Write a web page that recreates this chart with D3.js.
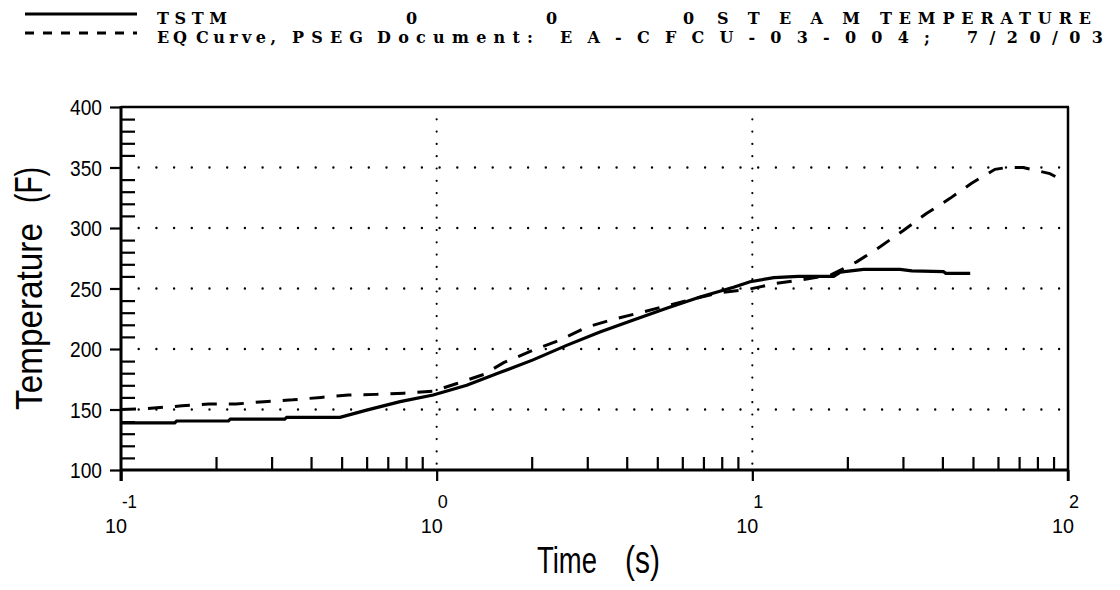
<!DOCTYPE html>
<html><head><meta charset="utf-8">
<script src="https://cdn.jsdelivr.net/npm/d3@7/dist/d3.min.js"></script>
<style>body{margin:0;background:#fff}svg{display:block;background:#fff}</style>
</head><body>
<svg id="chart" width="1120" height="590"></svg>
<script>
// ---------- data ----------
const tstmTime = [0.1,0.148,0.15,0.219,0.222,0.33,0.335,0.494,0.6,0.766,0.975,1.245,1.585,2.02,2.58,3.29,4.2,5.35,6.83,8.72,9.84,11.7,14,18.1,19,22.5,29.4,32,40.3,41,49];
const tstmTemp = [139,139,140.5,140.5,142,142,143.5,143.5,149.5,156.5,162,170,180.5,191,203,214,224,233.6,243,251,255.6,259,260,260,263.5,265.8,265.8,264.5,264,262.5,262.5];
const eqTime = [0.1,0.115,0.156,0.19,0.231,0.284,0.35,0.43,0.525,0.643,0.788,0.97,1.16,1.41,1.63,2.02,2.46,2.98,3.63,4.41,5.48,6.66,7.89,9.7,11.9,14.7,17.8,21.4,25.4,30.1,35.6,42.3,49.5,58.7,64,72.1,87.6,92.1];
const eqTemp = [150,150.4,153,154.5,154.5,156.5,158,160,162,162.5,163.5,165,171.5,179,188.7,199,207.4,218,224.5,230,236.4,242,246.5,249.3,254.3,257.6,261.4,272,284.5,298,312,324.5,337,348.5,350,350,345,342];
const xMajorTicks = [0.1,1,10,100];
const xTickExponents = ["-1","0","1","2"];
const yTicks = [100,150,200,250,300,350,400];
const yGridValues = [150,200,250,300,350];
const xGridValues = [1,10];
const legendRow1 = ["TSTM","0","0","0","STEAM","TEMPERATURE"];
const legendRow2 = ["EQ","Curve,","PSEG","Document:","EA-CFCU-03-004;","7/20/03"];
const xTitle = ["Time","(s)"];
const yTitle = ["Temperature","(F)"];

// ---------- layout ----------
const L = 121, R = 1068, T = 107, B = 470;
const narrow = "'Liberation Sans Narrow','Arial Narrow','Liberation Sans',Arial,sans-serif";
const svg = d3.select("#chart");
const x = d3.scaleLog().domain([0.1,100]).range([L,R]);
const y = d3.scaleLinear().domain([100,400]).range([B,T]);

// minor ticks
const xMinor = [];
[0.1,1,10].forEach(d => { for (let k=2;k<=9;k++) xMinor.push(+(d*k).toPrecision(3)); });
const yMinor = d3.range(110,400,10).filter(v => v%50 !== 0);

// grid
svg.append("g").selectAll("line").data(yGridValues).join("line")
  .attr("x1",L).attr("x2",R).attr("y1",d=>y(d)).attr("y2",d=>y(d))
  .attr("stroke","#000").attr("stroke-width",2.4).attr("stroke-linecap","round")
  .attr("stroke-dasharray","0 17.7");
svg.append("g").selectAll("line").data(xGridValues).join("line")
  .attr("x1",d=>x(d)).attr("x2",d=>x(d)).attr("y1",T).attr("y2",B)
  .attr("stroke","#000").attr("stroke-width",2.2).attr("stroke-linecap","round")
  .attr("stroke-dasharray","0 12.3");

// axes
const gxMinor = svg.append("g").attr("transform",`translate(0,${B})`)
  .call(d3.axisTop(x).tickValues(xMinor).tickSize(13).tickFormat(""));
const gxMajor = svg.append("g").attr("transform",`translate(0,${B})`)
  .call(d3.axisBottom(x).tickValues(xMajorTicks).tickSize(11).tickFormat(""));
const gyMinor = svg.append("g").attr("transform",`translate(${L},0)`)
  .call(d3.axisRight(y).tickValues(yMinor).tickSize(14).tickFormat(""));
const gyMajor = svg.append("g").attr("transform",`translate(${L},0)`)
  .call(d3.axisLeft(y).tickValues(yTicks).tickSize(11).tickPadding(8).tickFormat(d3.format("d")));
[gxMinor,gxMajor,gyMinor,gyMajor].forEach(g=>{
  g.select(".domain").remove();
  g.selectAll(".tick line").attr("stroke","#000").attr("stroke-width",2.2);
});
gyMajor.selectAll(".tick text").attr("fill","#000").attr("font-family",narrow)
  .attr("font-size",22).attr("textLength",32).attr("lengthAdjust","spacingAndGlyphs")
  .attr("dy","0.36em");

// frame
svg.append("line").attr("x1",L).attr("x2",L).attr("y1",T-1).attr("y2",B+11).attr("stroke","#000").attr("stroke-width",3);
svg.append("line").attr("x1",L-1).attr("x2",R+1).attr("y1",B).attr("y2",B).attr("stroke","#000").attr("stroke-width",3);
svg.append("line").attr("x1",L).attr("x2",R+1).attr("y1",T).attr("y2",T).attr("stroke","#000").attr("stroke-width",2.5);
svg.append("line").attr("x1",R).attr("x2",R).attr("y1",T).attr("y2",B+11).attr("stroke","#000").attr("stroke-width",2.5);

// x tick labels 10^n
const xl = svg.append("g").attr("font-family",narrow).attr("fill","#000");
xl.selectAll("text.base").data(xMajorTicks).join("text").attr("class","base")
  .attr("x",d=>x(d)+6).attr("y",533).attr("text-anchor","end")
  .attr("font-size",21).attr("textLength",22).attr("lengthAdjust","spacingAndGlyphs").text("10");
xl.selectAll("text.exp").data(xMajorTicks).join("text").attr("class","exp")
  .attr("x",d=>x(d)+1).attr("y",508).attr("text-anchor","start")
  .attr("font-size",18).text((d,i)=>xTickExponents[i])
  .each(function(d,i){ if (xTickExponents[i].length>1) d3.select(this).attr("textLength",15).attr("lengthAdjust","spacingAndGlyphs"); });

// axis titles
svg.append("text").attr("x",537).attr("y",573).attr("font-family",narrow).attr("font-size",36)
  .attr("textLength",60).attr("lengthAdjust","spacingAndGlyphs").text(xTitle[0]);
svg.append("text").attr("x",625).attr("y",573).attr("font-family",narrow).attr("font-size",38)
  .attr("textLength",35).attr("lengthAdjust","spacingAndGlyphs").text(xTitle[1]);
svg.append("text").attr("transform","translate(42,410) rotate(-90)").attr("font-family",narrow)
  .attr("font-size",37).attr("textLength",187).attr("lengthAdjust","spacingAndGlyphs").text(yTitle[0]);
svg.append("text").attr("transform","translate(42,203) rotate(-90)").attr("font-family",narrow)
  .attr("font-size",38).attr("textLength",36).attr("lengthAdjust","spacingAndGlyphs").text(yTitle[1]);

// curves
const line = d3.line().x(d=>x(d[0])).y(d=>y(d[1]));
svg.append("path").datum(eqTime.map((t,i)=>[t,eqTemp[i]])).attr("d",line)
  .attr("fill","none").attr("stroke","#000").attr("stroke-width",3).attr("stroke-dasharray","15 12");
svg.append("path").datum(tstmTime.map((t,i)=>[t,tstmTemp[i]])).attr("d",line)
  .attr("fill","none").attr("stroke","#000").attr("stroke-width",3.2);

// legend
svg.append("line").attr("x1",25).attr("x2",137).attr("y1",14).attr("y2",14).attr("stroke","#000").attr("stroke-width",3);
svg.append("line").attr("x1",25).attr("x2",137).attr("y1",33).attr("y2",33).attr("stroke","#000").attr("stroke-width",3).attr("stroke-dasharray","9 9");
const row1Pos = [[157,70],[406,10],[546,10],[683,10],[717,143],[880,211]];
const row2Pos = [[157,30],[196,80],[292,71],[377,156],[560,370],[967,136]];
const lg = svg.append("g").attr("font-family","'DejaVu Serif','Liberation Serif',serif").attr("font-weight","bold").attr("font-size",16).attr("fill","#000");
lg.selectAll("text.r1").data(legendRow1).join("text").attr("class","r1")
  .attr("x",(d,i)=>row1Pos[i][0]).attr("y",24).attr("textLength",(d,i)=>row1Pos[i][1]).attr("lengthAdjust","spacing").text(d=>d);
lg.selectAll("text.r2").data(legendRow2).join("text").attr("class","r2")
  .attr("x",(d,i)=>row2Pos[i][0]).attr("y",43).attr("textLength",(d,i)=>row2Pos[i][1]).attr("lengthAdjust","spacing").text(d=>d);
</script>
</body></html>
